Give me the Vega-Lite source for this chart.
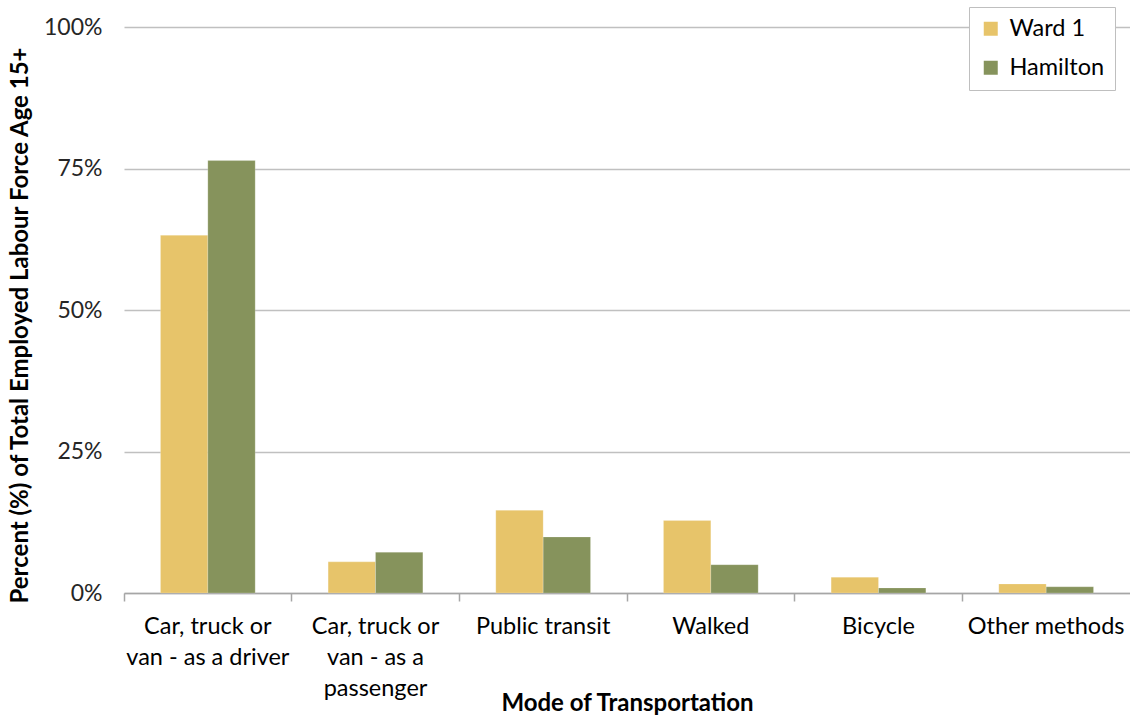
{
  "$schema": "https://vega.github.io/schema/vega-lite/v6.json",
  "width": 1006,
  "height": 566,
  "autosize": "none",
  "padding": {"left": 124, "top": 27, "right": 0, "bottom": 122},
  "background": "white",
  "config": {
    "font": "Lato",
    "view": {"stroke": null}
  },
  "data": {
    "values": [
      {"mode": "Car, truck or van - as a driver", "area": "Ward 1", "pct": 63.2},
      {"mode": "Car, truck or van - as a driver", "area": "Hamilton", "pct": 76.4},
      {"mode": "Car, truck or van - as a passenger", "area": "Ward 1", "pct": 5.5},
      {"mode": "Car, truck or van - as a passenger", "area": "Hamilton", "pct": 7.2},
      {"mode": "Public transit", "area": "Ward 1", "pct": 14.6},
      {"mode": "Public transit", "area": "Hamilton", "pct": 9.9},
      {"mode": "Walked", "area": "Ward 1", "pct": 12.8},
      {"mode": "Walked", "area": "Hamilton", "pct": 5.0},
      {"mode": "Bicycle", "area": "Ward 1", "pct": 2.8},
      {"mode": "Bicycle", "area": "Hamilton", "pct": 0.9},
      {"mode": "Other methods", "area": "Ward 1", "pct": 1.6},
      {"mode": "Other methods", "area": "Hamilton", "pct": 1.1}
    ]
  },
  "mark": {"type": "bar", "stroke": "white", "strokeOpacity": 0.4, "strokeWidth": 0.5},
  "encoding": {
    "x": {
      "field": "mode",
      "type": "nominal",
      "sort": null,
      "scale": {"paddingInner": 0, "paddingOuter": 0},
      "axis": {
        "title": "Mode of Transportation",
        "titleFont": "Lato",
        "titleFontSize": 24,
        "titleFontWeight": "bold",
        "titleColor": "black",
        "titleY": 110,
        "titleBaseline": "middle",
        "labelAngle": 0,
        "labelFontSize": 23.5,
        "labelColor": "black",
        "labelLineHeight": 31,
        "labelPadding": 13,
        "labelBaseline": "top",
        "labelExpr": "datum.label == 'Car, truck or van - as a driver' ? ['Car, truck or', 'van - as a driver'] : datum.label == 'Car, truck or van - as a passenger' ? ['Car, truck or', 'van - as a', 'passenger'] : datum.label",
        "domainColor": "#a6a6a6",
        "domainWidth": 1.5,
        "tickColor": "#a6a6a6",
        "tickWidth": 1.5,
        "tickSize": 8,
        "bandPosition": 0,
        "grid": false
      }
    },
    "xOffset": {
      "field": "area",
      "type": "nominal",
      "sort": ["Ward 1", "Hamilton"],
      "scale": {"paddingInner": 0, "paddingOuter": 0.77}
    },
    "y": {
      "field": "pct",
      "type": "quantitative",
      "scale": {"domain": [0, 100], "nice": false},
      "axis": {
        "title": "Percent (%) of Total Employed Labour Force Age 15+",
        "titleFontSize": 24,
        "titleFontWeight": "bold",
        "titleColor": "black",
        "titleX": -104,
        "titleY": 298,
        "titleBaseline": "middle",
        "titleAlign": "center",
        "titleAngle": -90,
        "values": [0, 25, 50, 75, 100],
        "labelExpr": "datum.value + '%'",
        "labelFontSize": 23,
        "labelColor": "#262626",
        "labelPadding": 22,
        "ticks": false,
        "domain": false,
        "grid": true,
        "gridColor": "#c0c0c0",
        "gridWidth": 1.5
      }
    },
    "color": {
      "field": "area",
      "type": "nominal",
      "sort": ["Ward 1", "Hamilton"],
      "scale": {"domain": ["Ward 1", "Hamilton"], "range": ["#E7C46A", "#86935C"]},
      "legend": {
        "title": null,
        "orient": "none",
        "legendX": 845,
        "legendY": -20,
        "direction": "vertical",
        "fillColor": "white",
        "strokeColor": "#bfbfbf",
        "padding": 10,
        "labelFontSize": 23.5,
        "labelColor": "black",
        "labelOffset": 7,
        "symbolType": "square",
        "symbolSize": 196,
        "symbolStrokeWidth": 0,
        "rowPadding": 14
      }
    }
  }
}
